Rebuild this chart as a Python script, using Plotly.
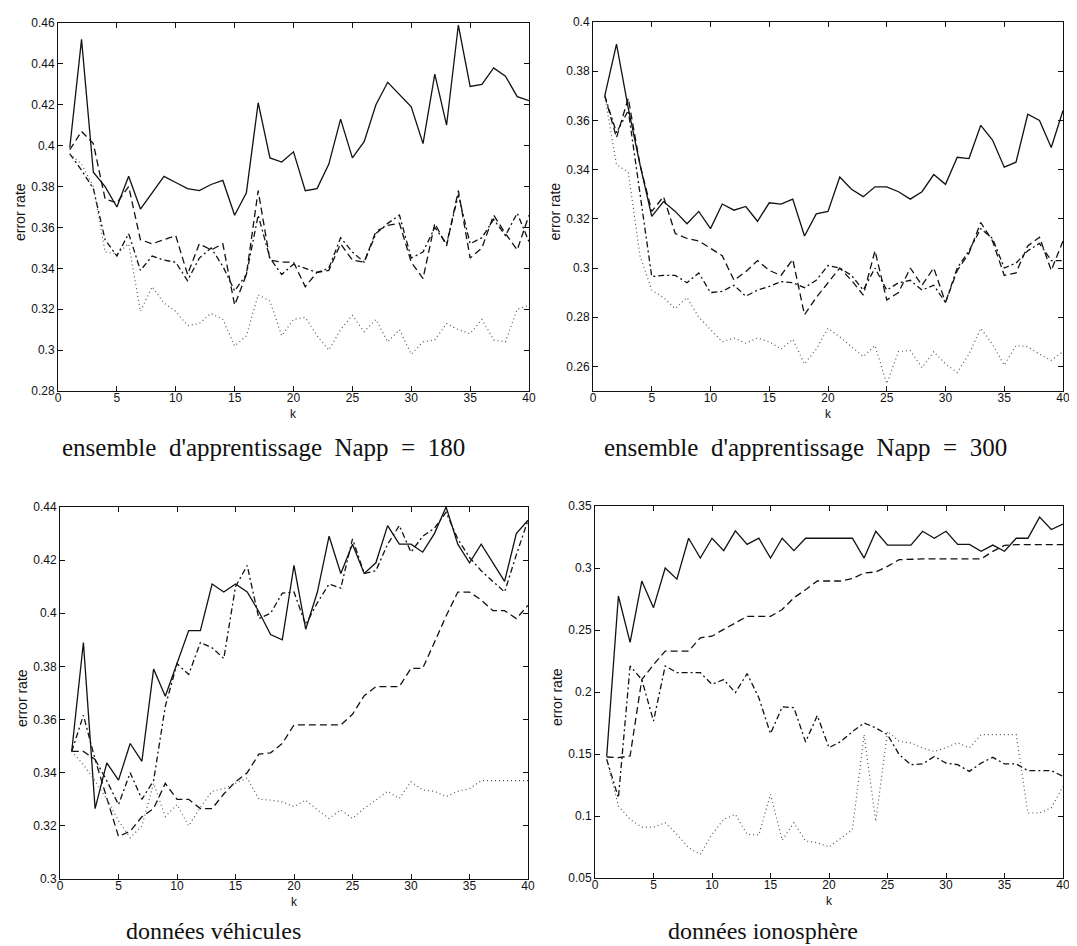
import plotly.graph_objects as go

# ---------------- data ----------------
K = list(range(1, 41))
k_ticks = [0, 5, 10, 15, 20, 25, 30, 35, 40]

# panel 1 : ensemble d'apprentissage Napp = 180
n180_solid = [0.399, 0.452, 0.387, 0.380, 0.370, 0.385, 0.369, 0.377, 0.385, 0.382,
              0.379, 0.378, 0.381, 0.383, 0.366, 0.377, 0.421, 0.394, 0.392, 0.397,
              0.378, 0.379, 0.391, 0.413, 0.394, 0.402, 0.420, 0.431, 0.425, 0.419,
              0.401, 0.435, 0.410, 0.459, 0.429, 0.430, 0.438, 0.434, 0.424, 0.422]
n180_dash = [0.398, 0.407, 0.401, 0.374, 0.372, 0.380, 0.354, 0.352, 0.354, 0.356,
             0.337, 0.352, 0.349, 0.352, 0.322, 0.337, 0.378, 0.344, 0.343, 0.343,
             0.331, 0.338, 0.339, 0.352, 0.344, 0.343, 0.358, 0.361, 0.362, 0.343,
             0.335, 0.362, 0.351, 0.378, 0.345, 0.350, 0.366, 0.357, 0.349, 0.366]
n180_dashdot = [0.396, 0.388, 0.379, 0.354, 0.346, 0.357, 0.339, 0.346, 0.344, 0.343,
                0.334, 0.345, 0.350, 0.341, 0.329, 0.337, 0.366, 0.345, 0.337, 0.342,
                0.340, 0.338, 0.340, 0.355, 0.348, 0.343, 0.357, 0.362, 0.366, 0.345,
                0.348, 0.360, 0.352, 0.376, 0.352, 0.355, 0.364, 0.356, 0.367, 0.353]
n180_dot = [0.396, 0.391, 0.380, 0.348, 0.347, 0.352, 0.319, 0.331, 0.323, 0.319,
            0.312, 0.313, 0.318, 0.315, 0.302, 0.307, 0.327, 0.324, 0.307, 0.315,
            0.316, 0.307, 0.300, 0.310, 0.317, 0.309, 0.315, 0.304, 0.310, 0.298,
            0.304, 0.305, 0.313, 0.310, 0.308, 0.315, 0.305, 0.304, 0.320, 0.322]
n180_yticks = [0.28, 0.30, 0.32, 0.34, 0.36, 0.38, 0.40, 0.42, 0.44, 0.46]

# panel 2 : ensemble d'apprentissage Napp = 300
n300_solid = [0.370, 0.391, 0.365, 0.342, 0.321, 0.327, 0.323, 0.318, 0.323, 0.316,
              0.326, 0.3235, 0.325, 0.319, 0.3265, 0.326, 0.328, 0.313, 0.322, 0.323,
              0.337, 0.332, 0.329, 0.333, 0.333, 0.331, 0.328, 0.331, 0.338, 0.334,
              0.345, 0.3445, 0.358, 0.352, 0.341, 0.343, 0.3625, 0.360, 0.349, 0.364]
n300_dash = [0.370, 0.353, 0.369, 0.342, 0.323, 0.329, 0.314, 0.312, 0.311, 0.308,
             0.305, 0.295, 0.2985, 0.303, 0.299, 0.297, 0.3035, 0.281, 0.288, 0.294,
             0.300, 0.295, 0.289, 0.307, 0.287, 0.290, 0.300, 0.293, 0.300, 0.286,
             0.299, 0.306, 0.3185, 0.311, 0.297, 0.298, 0.309, 0.3125, 0.299, 0.311]
n300_dashdot = [0.370, 0.355, 0.364, 0.330, 0.2965, 0.297, 0.297, 0.294, 0.298, 0.290,
                0.2905, 0.293, 0.2885, 0.291, 0.2925, 0.2945, 0.294, 0.292, 0.295, 0.301,
                0.300, 0.297, 0.291, 0.300, 0.291, 0.294, 0.295, 0.291, 0.293, 0.286,
                0.300, 0.307, 0.316, 0.312, 0.300, 0.302, 0.307, 0.310, 0.303, 0.303]
n300_dot = [0.370, 0.342, 0.339, 0.305, 0.291, 0.288, 0.2835, 0.288, 0.280, 0.275,
            0.270, 0.2715, 0.2695, 0.2715, 0.270, 0.267, 0.271, 0.261, 0.267, 0.2755,
            0.272, 0.268, 0.264, 0.2685, 0.253, 0.266, 0.2665, 0.2595, 0.266, 0.261,
            0.2575, 0.265, 0.2755, 0.269, 0.2605, 0.2685, 0.268, 0.265, 0.2625, 0.266]
n300_yticks = [0.26, 0.28, 0.30, 0.32, 0.34, 0.36, 0.38, 0.40]

# panel 3 : données véhicules
veh_solid = [0.348, 0.389, 0.3265, 0.3437, 0.3372, 0.351, 0.3443, 0.379, 0.3688, 0.381,
             0.3935, 0.3935, 0.411, 0.408, 0.411, 0.408, 0.4006, 0.392, 0.390, 0.418,
             0.394, 0.408, 0.429, 0.415, 0.426, 0.415, 0.419, 0.433, 0.426, 0.426,
             0.423, 0.430, 0.440, 0.426, 0.419, 0.426, 0.419, 0.412, 0.430, 0.435]
veh_dash = [0.348, 0.348, 0.345, 0.330, 0.316, 0.318, 0.3234, 0.3265, 0.336, 0.330,
            0.330, 0.3265, 0.3265, 0.332, 0.3366, 0.340, 0.347, 0.3475, 0.351, 0.358,
            0.358, 0.358, 0.358, 0.358, 0.362, 0.369, 0.3724, 0.3724, 0.3724, 0.3793,
            0.3793, 0.389, 0.399, 0.408, 0.408, 0.405, 0.401, 0.401, 0.398, 0.403]
veh_dashdot = [0.348, 0.3616, 0.345, 0.337, 0.328, 0.340, 0.330, 0.337, 0.365, 0.381,
               0.377, 0.389, 0.387, 0.383, 0.410, 0.418, 0.398, 0.400, 0.4076, 0.408,
               0.3957, 0.404, 0.411, 0.4095, 0.428, 0.415, 0.416, 0.426, 0.433, 0.423,
               0.429, 0.432, 0.438, 0.428, 0.421, 0.416, 0.412, 0.408, 0.422, 0.435]
veh_dot = [0.348, 0.343, 0.337, 0.330, 0.322, 0.3155, 0.320, 0.336, 0.3235, 0.328,
           0.320, 0.327, 0.333, 0.334, 0.336, 0.338, 0.330, 0.3297, 0.329, 0.3272,
           0.3297, 0.326, 0.3228, 0.326, 0.3228, 0.3266, 0.3297, 0.333, 0.3303, 0.3366,
           0.3335, 0.333, 0.331, 0.333, 0.334, 0.337, 0.337, 0.337, 0.337, 0.337]
veh_yticks = [0.30, 0.32, 0.34, 0.36, 0.38, 0.40, 0.42, 0.44]

# panel 4 : données ionosphère
iono_solid = [0.148, 0.2774, 0.240, 0.2895, 0.268, 0.300, 0.291, 0.324, 0.308, 0.324,
              0.314, 0.330, 0.319, 0.324, 0.308, 0.324, 0.314, 0.324, 0.324, 0.324,
              0.324, 0.324, 0.308, 0.3296, 0.3185, 0.3185, 0.3185, 0.3296, 0.324, 0.3296,
              0.319, 0.319, 0.3135, 0.3185, 0.3135, 0.324, 0.324, 0.341, 0.331, 0.3355]
iono_dash = [0.1476, 0.147, 0.1485, 0.210, 0.222, 0.233, 0.233, 0.233, 0.2437, 0.245,
             0.2505, 0.256, 0.261, 0.261, 0.261, 0.2665, 0.276, 0.2825, 0.2895, 0.2895,
             0.2895, 0.2915, 0.296, 0.2968, 0.3013, 0.3067, 0.3073, 0.3073, 0.3073, 0.3073,
             0.3073, 0.3073, 0.3073, 0.3134, 0.3183, 0.3188, 0.3188, 0.3188, 0.3188, 0.3188]
iono_dashdot = [0.1457, 0.1147, 0.221, 0.210, 0.1766, 0.221, 0.2156, 0.2156, 0.2156, 0.2062,
                0.210, 0.1995, 0.2148, 0.1954, 0.1664, 0.188, 0.1874, 0.1597, 0.181, 0.1551,
                0.160, 0.168, 0.175, 0.171, 0.1656, 0.1495, 0.1414, 0.142, 0.148, 0.1427,
                0.1414, 0.136, 0.1427, 0.1473, 0.142, 0.142, 0.1366, 0.1366, 0.1366, 0.132]
iono_dot = [0.1457, 0.108, 0.0973, 0.091, 0.091, 0.0946, 0.0852, 0.0745, 0.069, 0.0852,
            0.0973, 0.1013, 0.0852, 0.0847, 0.1175, 0.0804, 0.0946, 0.0798, 0.0785, 0.075,
            0.082, 0.089, 0.1656, 0.0957, 0.1683, 0.1602, 0.1589, 0.1548, 0.152, 0.155,
            0.159, 0.155, 0.1656, 0.1656, 0.1656, 0.1656, 0.1024, 0.1024, 0.1065, 0.124]
iono_yticks = [0.05, 0.10, 0.15, 0.20, 0.25, 0.30, 0.35]

# captions (slightly wider TeX-like spacing in the top two)
captions = ["ensemble\u2002d'apprentissage\u2002Napp\u2002=\u2002180",
            "ensemble\u2002d'apprentissage\u2002Napp\u2002=\u2002300",
            "données véhicules",
            "données ionosphère"]
caption_sizes = [25, 25, 24, 24]

# ---------------- layout helpers ----------------
W, H = 1077, 946
def fx(px):
    return px / W
def fy(py):
    return 1 - py / H

panels = [
    dict(series=(n180_solid, n180_dash, n180_dashdot, n180_dot), yr=[0.28, 0.46],
         yt=n180_yticks, xp=(50, 521), yp=(15, 383), cap=(255, 440)),
    dict(series=(n300_solid, n300_dash, n300_dashdot, n300_dot), yr=[0.25, 0.40],
         yt=n300_yticks, xp=(585, 1055), yp=(14, 383), cap=(797, 440)),
    dict(series=(veh_solid, veh_dash, veh_dashdot, veh_dot), yr=[0.30, 0.44],
         yt=veh_yticks, xp=(52, 520), yp=(499, 871), cap=(205, 923)),
    dict(series=(iono_solid, iono_dash, iono_dashdot, iono_dot), yr=[0.05, 0.35],
         yt=iono_yticks, xp=(587, 1055), yp=(498, 870), cap=(755, 923)),
]

styles = [
    dict(dash="solid", color="#111111", width=1.3),
    dict(dash="7px,4px", color="#111111", width=1.3),
    dict(dash="6px,3px,2px,3px", color="#111111", width=1.3),
    dict(dash="1px,3px", color="#555555", width=1.2),
]

fig = go.Figure()
layout = {}
annotations = []
tickfont = dict(family="Liberation Sans, Arial, sans-serif", size=12, color="#111111")

for i, p in enumerate(panels):
    n = i + 1
    xa = "x" if n == 1 else f"x{n}"
    ya = "y" if n == 1 else f"y{n}"
    for vals, st in zip(p["series"], styles):
        fig.add_trace(go.Scatter(x=K, y=vals, mode="lines", xaxis=xa, yaxis=ya,
                                 line=st, showlegend=False, hoverinfo="skip"))
    axis_common = dict(showline=True, linecolor="#111111", linewidth=1, mirror="ticks",
                       ticks="inside", ticklen=5, tickcolor="#111111", showgrid=False,
                       zeroline=False, tickfont=tickfont, automargin=False)
    layout["xaxis" if n == 1 else f"xaxis{n}"] = dict(
        domain=[fx(p["xp"][0]), fx(p["xp"][1])], range=[0, 40],
        tickvals=k_ticks, ticktext=[str(v) for v in k_ticks],
        ticklabelstandoff=-4, anchor=ya, **axis_common)
    layout["yaxis" if n == 1 else f"yaxis{n}"] = dict(
        domain=[fy(p["yp"][1]), fy(p["yp"][0])], range=p["yr"],
        tickvals=p["yt"], ticktext=[f"{v:g}" for v in p["yt"]],
        anchor=xa, **axis_common)
    xmid = (p["xp"][0] + p["xp"][1]) / 2
    ymid = (p["yp"][0] + p["yp"][1]) / 2
    annotations.append(dict(text="k", x=fx(xmid), y=fy(p["yp"][1] + 23), xref="paper",
                            yref="paper", showarrow=False, xanchor="center", yanchor="middle",
                            font=dict(family="Liberation Sans, Arial", size=12, color="#111111")))
    annotations.append(dict(text="error rate", x=fx(p["xp"][0] - 38), y=fy(ymid + 5),
                            xref="paper", yref="paper", showarrow=False, textangle=-90,
                            xanchor="center", yanchor="middle",
                            font=dict(family="Liberation Sans, Arial", size=14, color="#111111")))
    annotations.append(dict(text=captions[i], x=fx(p["cap"][0]), y=fy(p["cap"][1]),
                            xref="paper", yref="paper", showarrow=False,
                            xanchor="center", yanchor="middle",
                            font=dict(family="Liberation Serif, Times New Roman, serif",
                                      size=caption_sizes[i], color="#111111")))

fig.update_layout(width=W, height=H, margin=dict(l=0, r=0, t=0, b=0),
                  paper_bgcolor="white", plot_bgcolor="white",
                  annotations=annotations, **layout)

fig.write_html("out.html")
